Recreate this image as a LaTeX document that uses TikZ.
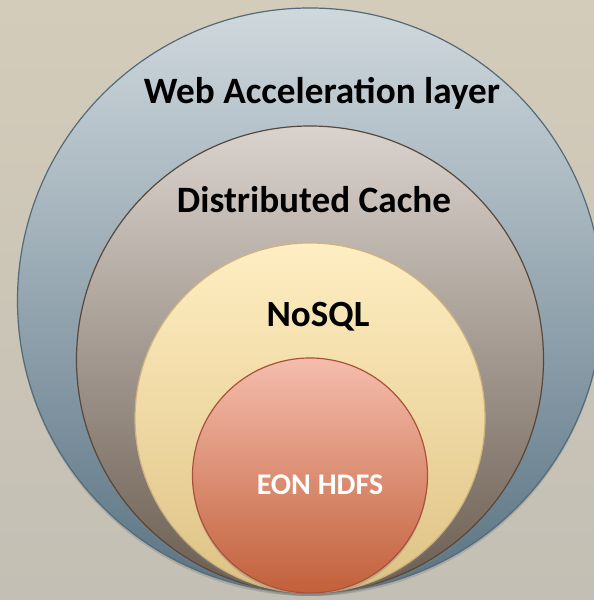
\documentclass[tikz,border=0pt]{standalone}
\usepackage{fontspec}
\setmainfont{Carlito}
\usetikzlibrary{shadows}

\definecolor{bgtop}{HTML}{D4CCBA}
\definecolor{bgbot}{HTML}{C3BFB4}
\definecolor{webtop}{HTML}{CFD8DD}
\definecolor{webbot}{HTML}{5A7383}
\definecolor{webline}{HTML}{526B7A}
\definecolor{cachetop}{HTML}{DAD3CD}
\definecolor{cachebot}{HTML}{6A5C50}
\definecolor{cacheline}{HTML}{58483B}
\definecolor{nosqltop}{HTML}{FFEEC2}
\definecolor{nosqlbot}{HTML}{DEC284}
\definecolor{nosqlline}{HTML}{CDB47E}
\definecolor{hdfstop}{HTML}{F5BDAD}
\definecolor{hdfsbot}{HTML}{C2603A}
\definecolor{hdfsline}{HTML}{A9523A}

\tikzset{
  ring/.style={line width=1.2pt, drop shadow={shadow xshift=0pt, shadow yshift=-3pt, opacity=.35}},
  layer/.style={font=\bfseries, anchor=base, inner sep=0pt}
}

\begin{document}
\begin{tikzpicture}[x=1pt,y=1pt]
\useasboundingbox (0,0) rectangle (594,600);
\shade [top color=bgtop, bottom color=bgbot] (0,0) rectangle (594,600);

% layers, from the outside in
\shade [ring, draw=webline, top color=webtop, bottom color=webbot] (310,299.5) circle [radius=292.5];
\shade [ring, draw=cacheline, top color=cachetop, bottom color=cachebot] (310,240.5) circle [radius=233.5];
\shade [ring, draw=nosqlline, top color=nosqltop, bottom color=nosqlbot] (310,182) circle [radius=175];
\shade [ring, draw=hdfsline, top color=hdfstop, bottom color=hdfsbot] (310,124.5) circle [radius=117.5];

\node [layer, font=\bfseries\fontsize{37.2}{42}\selectfont] (web) at (322,496) {Web Acceleration layer};
\node [layer, font=\bfseries\fontsize{37.2}{42}\selectfont] (cache) at (314,387) {Distributed Cache};
\node [layer, font=\bfseries\fontsize{37}{42}\selectfont] (nosql) at (318,273) {NoSQL};
\node [layer, white, font=\bfseries\fontsize{30}{36}\selectfont] (hdfs) at (320,105) {EON HDFS};
\end{tikzpicture}
\end{document}
